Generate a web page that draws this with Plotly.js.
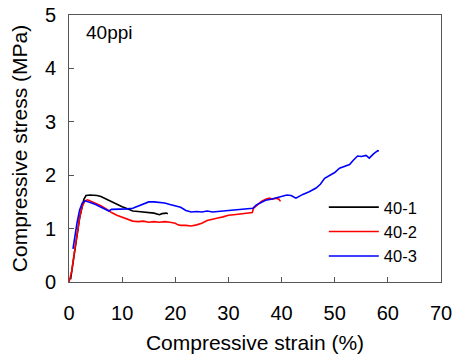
<!DOCTYPE html>
<html><head><meta charset="utf-8">
<script src="https://cdn.plot.ly/plotly-3.0.1.min.js"></script>
<style>html,body{margin:0;padding:0;background:#fff}#chart{width:454px;height:356px}</style>
</head><body><div id="chart"></div>
<script>
const seriesNames = ["40-1", "40-2", "40-3"];
const strain1 = [0.3,1,2,2.8,3.2,4,5.3,6,7,8,9,10,11,12,13,14,15,16,17,17.5,18.3,18.6];
const stress1 = [0.05,0.5,1.2,1.55,1.62,1.63,1.62,1.6,1.55,1.5,1.45,1.41,1.37,1.33,1.32,1.31,1.31,1.29,1.26,1.28,1.29,1.28];
const strain2 = [0,0.5,1,1.5,2,2.5,3,3.5,4,5,6,7,8,9,10,11,12,13,14,15,16,17,18,19,20,20.5,21,22,23,24,25,26,27,28,29,30,31,32,33,34,34.5,34.7,35.5,36.2,37,37.7,38.3,39,39.5,39.8];
const stress2 = [0,0.2,0.55,0.9,1.2,1.42,1.52,1.54,1.52,1.48,1.43,1.37,1.3,1.25,1.21,1.17,1.14,1.13,1.14,1.12,1.13,1.12,1.13,1.12,1.1,1.07,1.06,1.06,1.05,1.07,1.1,1.15,1.18,1.2,1.22,1.25,1.26,1.27,1.28,1.29,1.3,1.38,1.45,1.51,1.55,1.57,1.55,1.57,1.55,1.51];
const strain3 = [0.75,1,1.5,2,2.5,3,3.5,4,5,6,7,7.5,8,9,10,11,12,13,14,15,16,17,18,19,20,21,22,23,24,25,26,27,28,29,30,31,32,33,34,34.6,35.2,36,37,38,39,40,41,41.8,42.7,44,45.2,46.5,47.3,48.1,49,50,50.9,52,52.8,53.5,54.3,55,55.9,56.5,57.3,58.1,58.3];
const stress3 = [0.62,0.8,1.1,1.35,1.48,1.52,1.51,1.49,1.45,1.4,1.35,1.33,1.36,1.36,1.37,1.37,1.38,1.42,1.47,1.5,1.5,1.49,1.48,1.45,1.43,1.4,1.34,1.31,1.32,1.31,1.33,1.31,1.32,1.33,1.33,1.35,1.36,1.36,1.37,1.38,1.44,1.48,1.53,1.55,1.58,1.6,1.63,1.62,1.57,1.64,1.69,1.76,1.83,1.94,2.0,2.05,2.13,2.17,2.2,2.28,2.36,2.35,2.37,2.32,2.4,2.46,2.45];
const xTicks = [0,10,20,30,40,50,60,70];
const yTicks = [0,1,2,3,4,5];

const font = "Liberation Sans, Arial, sans-serif";
const traces = [
  {x: strain1, y: stress1, name: seriesNames[0], mode: "lines", line: {color: "#000000", width: 1.6}},
  {x: strain2, y: stress2, name: seriesNames[1], mode: "lines", line: {color: "#ff0000", width: 1.6}},
  {x: strain3, y: stress3, name: seriesNames[2], mode: "lines", line: {color: "#0000ff", width: 1.6}}
];
const axisCommon = {
  showgrid: false, zeroline: false, showline: true, linecolor: "#555", linewidth: 1,
  mirror: true, ticks: "inside", ticklen: 5, tickcolor: "#555",
  tickfont: {family: font, size: 20, color: "#000"}
};
const layout = {
  width: 454, height: 356,
  margin: {l: 69, r: 13, t: 15, b: 74},
  paper_bgcolor: "#fff", plot_bgcolor: "#fff",
  showlegend: true,
  legend: {x: 0.685, y: 0.345, xanchor: "left", yanchor: "top", bgcolor: "rgba(0,0,0,0)",
           font: {family: font, size: 16.5, color: "#000"}, tracegroupgap: 0, itemwidth: 50},
  xaxis: Object.assign({}, axisCommon, {range: [0, 70], tickvals: xTicks, ticklabelstandoff: 13,
           title: {text: "Compressive strain (%)", font: {family: font, size: 21, color: "#000"}, standoff: 12}}),
  yaxis: Object.assign({}, axisCommon, {range: [0, 5], tickvals: yTicks, ticklabelstandoff: 8,
           title: {text: "Compressive stress (MPa)", font: {family: font, size: 21, color: "#000"}, standoff: 11}}),
  annotations: [{text: "40ppi", xref: "paper", yref: "paper", x: 0.04, y: 0.933, xanchor: "left", yanchor: "middle",
                 showarrow: false, font: {family: font, size: 19, color: "#000"}}]
};
Plotly.newPlot("chart", traces, layout, {displayModeBar: false, staticPlot: true});
</script></body></html>
